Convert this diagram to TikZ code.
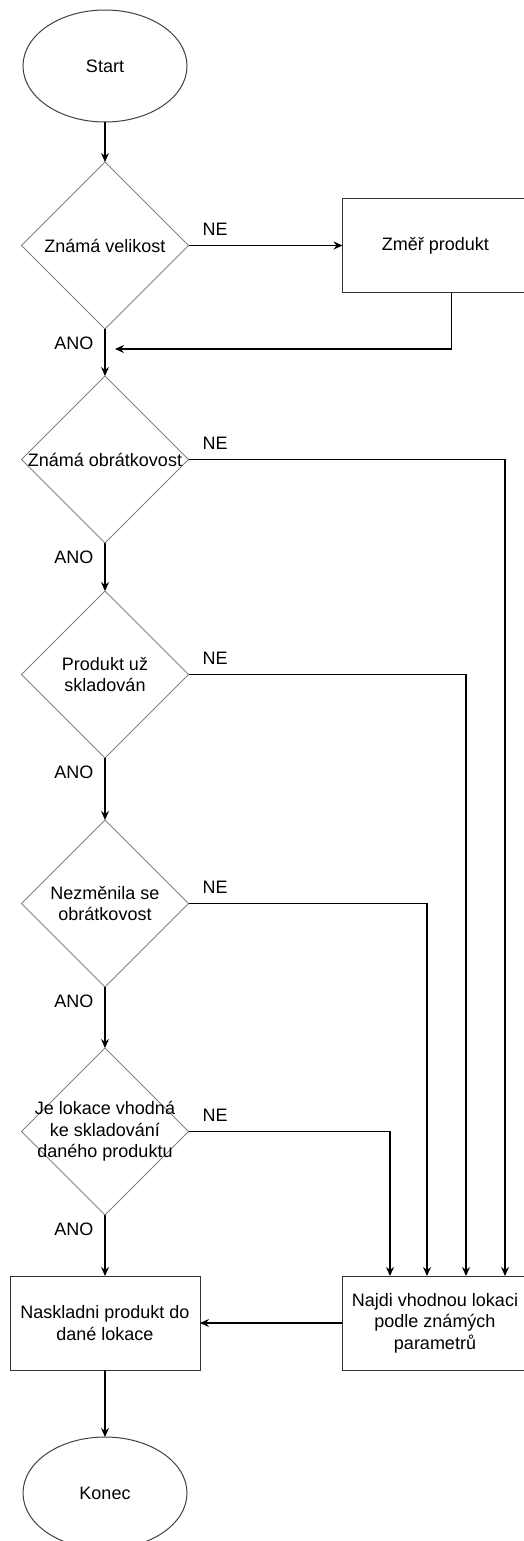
\documentclass[tikz,border=0pt]{standalone}
\usepackage{fontspec}
\setmainfont{Liberation Sans}
\usepackage{tikz}
\usetikzlibrary{positioning,arrows.meta,calc,shapes.geometric}

\begin{document}
\begin{tikzpicture}[
  x=1pt, y=1pt,
  every node/.style={font=\fontsize{18}{21.5}\selectfont},
  terminal/.style={ellipse, draw=black!75, line width=1pt, minimum width=164pt,
    minimum height=112pt, inner sep=0pt, outer sep=0pt},
  decision/.style={diamond, draw=black!50, line width=1pt, minimum width=167pt,
    minimum height=167pt, inner sep=0pt, outer sep=0pt},
  process/.style={rectangle, draw=black!80, line width=1pt, align=center,
    minimum width=186pt, minimum height=94pt, inner sep=0pt, outer sep=0pt},
  nelabel/.style={anchor=south west, inner sep=0pt, xshift=13.5pt, yshift=9pt},
  anolabel/.style={anchor=north east, inner sep=0pt, xshift=-11pt, yshift=-7pt},
  >={Stealth[length=9pt,width=8pt,inset=3pt]},
  line width=1.1pt
]

  \useasboundingbox (0,0) rectangle (524,-1541);

  \node[terminal] (start) at (105,-66) {Start};
  \node[decision] (d1) [below=40pt of start,
    label={center:Známá velikost}] {};
  \node[process] (zmer) [right=154pt of d1] {Změř produkt};
  \node[decision] (d2) [below=47pt of d1,
    label={center:Známá obrátkovost}] {};
  \node[decision] (d3) [below=48pt of d2,
    label={[align=center]center:Produkt už\\skladován}] {};
  \node[decision] (d4) [below=62pt of d3,
    label={[align=center]center:Nezměnila se\\obrátkovost}] {};
  \node[decision] (d5) [below=61pt of d4,
    label={[align=center]center:Je lokace vhodná\\ke skladování\\daného produktu}] {};
  \node[process, minimum width=190pt] (sklad) [below=61pt of d5]
    {Naskladni produkt do\\dané lokace};
  \node[process] (najdi) [right=142pt of sklad]
    {Najdi vhodnou lokaci\\podle známých\\parametrů};
  \node[terminal] (konec) [below=67pt of sklad] {Konec};

  \coordinate (merge) at ($(d1.south)+(10pt,-20pt)$);

  \draw[->] (start) -- (d1);
  \draw[->] (d1.east) node[nelabel] {NE} -- (zmer);
  \draw[->] ([xshift=16pt]zmer.south) |- (merge);
  \draw[->] (d1.south) node[anolabel] {ANO} -- (d2);

  \draw[->] (d2.east) node[nelabel] {NE} -| ([xshift=70pt]najdi.north);
  \draw[->] (d2.south) node[anolabel] {ANO} -- (d3);
  \draw[->] (d3.east) node[nelabel] {NE} -| ([xshift=31pt]najdi.north);
  \draw[->] (d3.south) node[anolabel] {ANO} -- (d4);
  \draw[->] (d4.east) node[nelabel] {NE} -| ([xshift=-8pt]najdi.north);
  \draw[->] (d4.south) node[anolabel] {ANO} -- (d5);
  \draw[->] (d5.east) node[nelabel] {NE} -| ([xshift=-45pt]najdi.north);
  \draw[->] (d5.south) node[anolabel] {ANO} -- (sklad);

  \draw[->] (najdi) -- (sklad);
  \draw[->] (sklad) -- (konec);

\end{tikzpicture}
\end{document}
